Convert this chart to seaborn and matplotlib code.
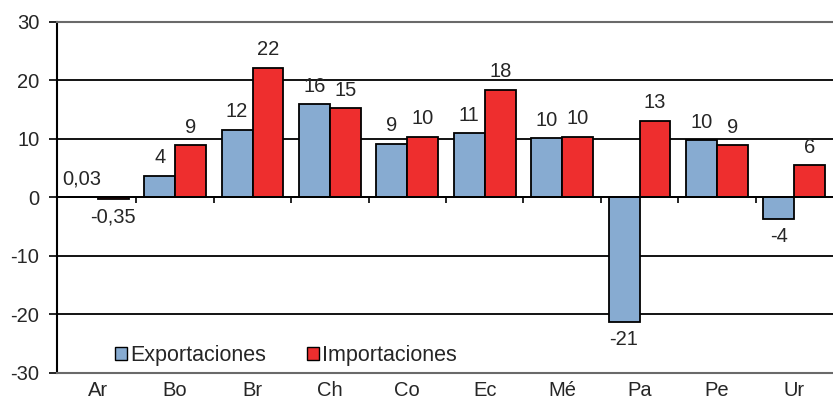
import matplotlib
matplotlib.use("Agg")
import matplotlib.pyplot as plt
import seaborn as sns
import pandas as pd

categories = ["Ar", "Bo", "Br", "Ch", "Co", "Ec", "Mé", "Pa", "Pe", "Ur"]
exportaciones = [0.03, 3.7, 11.6, 16.0, 9.2, 11.0, 10.1, -21.3, 9.8, -3.7]
importaciones = [-0.35, 8.9, 22.2, 15.3, 10.4, 18.4, 10.4, 13.1, 8.9, 5.5]
exp_labels = ["0,03", "4", "12", "16", "9", "11", "10", "-21", "10", "-4"]
imp_labels = ["-0,35", "9", "22", "15", "10", "18", "10", "13", "9", "6"]
series_names = ["Exportaciones", "Importaciones"]
yticks = [-30, -20, -10, 0, 10, 20, 30]

sns.set_style("white")
plt.rcParams["font.family"] = ["Liberation Sans", "DejaVu Sans"]
plt.rcParams["axes.unicode_minus"] = False
FS = 14.5

df = pd.DataFrame({
    "cat": categories * 2,
    "serie": [series_names[0]] * len(categories) + [series_names[1]] * len(categories),
    "valor": exportaciones + importaciones,
})

fig = plt.figure(figsize=(8.33, 4.07), dpi=100)
ax = fig.add_axes([0.069, 0.084, 0.931, 0.862])

ax.set_ylim(-30, 30)
ax.set_yticks(yticks)
for y in yticks:
    if y in (-30, 30):
        continue
    ax.axhline(y, color="black", lw=1.3, zorder=0.5)

sns.barplot(data=df, x="cat", y="valor", hue="serie", order=categories,
            hue_order=series_names, palette=["#87abd1", "#ee2e2e"],
            edgecolor="black", linewidth=1.3, saturation=1, width=0.8,
            ax=ax, zorder=2)

ax.set_xlim(-0.52, 9.5)

for cont, labs in zip(ax.containers, [exp_labels, imp_labels]):
    ax.bar_label(cont, labels=labs, padding=6, fontsize=FS)

# zero axis ticks at category boundaries
ax.vlines([i + 0.5 for i in range(len(categories) - 1)], -0.9, 0,
          color="black", lw=1.2, zorder=3)
ax.axhline(0, color="black", lw=1.3, zorder=3)

ax.set_xlabel("")
ax.set_ylabel("")
ax.tick_params(axis="x", length=0, labelsize=FS, pad=6)
ax.tick_params(axis="y", length=6, width=1.2, color="black", labelsize=FS,
               left=True, pad=7)
for s in ["top", "bottom"]:
    ax.spines[s].set_color("#6a6a6a")
    ax.spines[s].set_linewidth(1.5)
ax.spines["right"].set_visible(False)
ax.spines["left"].set_color("black")
ax.spines["left"].set_linewidth(1.5)

leg = ax.legend(loc="lower left", bbox_to_anchor=(0.052, -0.03), ncol=2,
                frameon=False, fontsize=15.5, handlelength=0.55,
                handleheight=0.55, handletextpad=0.15, columnspacing=1.9,
                borderaxespad=0.4)
for h in leg.legend_handles:
    h.set_edgecolor("black")
    h.set_linewidth(1)

fig.savefig("out.png", dpi=100)
